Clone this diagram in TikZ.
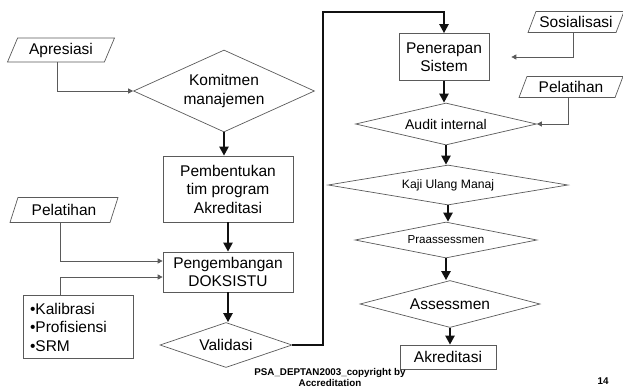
\documentclass[tikz,border=0pt]{standalone}
\usepackage{fontspec}
\setmainfont{Liberation Sans}
\usetikzlibrary{arrows.meta,shapes.geometric}
\usepackage{xcolor}
\definecolor{edgec}{HTML}{5A5A5A}
\definecolor{flowc}{HTML}{111111}

\tikzset{
  stepbox/.style={draw=edgec, line width=0.7pt, rectangle, inner sep=0pt, align=center},
  decide/.style={draw=edgec, line width=0.7pt, diamond, aspect=4, inner sep=0pt, align=center},
  inputbox/.style={draw=edgec, line width=0.7pt, trapezium, trapezium left angle=55, trapezium right angle=125,
    trapezium stretches body, inner xsep=2pt, inner ysep=0pt},
  thickflow/.style={-{Triangle[length=9pt,width=9pt]}, line width=2.2pt, flowc},
  thinflow/.style={-{Triangle[length=5pt,width=5pt]}, line width=0.8pt, edgec},
}

\begin{document}
\begin{tikzpicture}[x=1pt, y=-1pt, font=\fontsize{15.5}{18.5}\selectfont]
  \useasboundingbox (0,0) rectangle (623,388);

  % left column
  \node[inputbox, minimum width=107pt, minimum height=24pt] (apre) at (61,50) {Apresiasi};
  \node[decide, aspect=2.5, minimum width=181pt, minimum height=82pt] (komit) at (224,91) {Komitmen\\manajemen};
  \node[stepbox, minimum width=130pt, minimum height=66pt] (tim) at (228,189) {Pembentukan\\tim program\\Akreditasi};
  \node[stepbox, minimum width=130pt, minimum height=40pt] (dok) at (228,272) {Pengembangan\\DOKSISTU};
  \node[decide, minimum width=132pt, minimum height=45pt] (valid) at (226,345) {Validasi};

  % inputs on the left
  \node[inputbox, minimum width=108pt, minimum height=25pt] (pel1) at (64,210) {Pelatihan};
  \node[stepbox, minimum width=110pt, minimum height=63pt, text width=96pt, align=left] (kal) at (78,327)
    {•Kalibrasi\\•Profisiensi\\•SRM};

  % right column
  \node[stepbox, minimum width=90pt, minimum height=47pt] (pen) at (444,57) {Penerapan\\Sistem};
  \node[decide, minimum width=181pt, minimum height=42pt, font=\fontsize{14}{16}\selectfont] (aud) at (446,124) {Audit internal};
  \node[decide, minimum width=240pt, minimum height=40pt, font=\fontsize{12.2}{14}\selectfont] (kaji) at (448,185) {Kaji Ulang Manaj};
  \node[decide, minimum width=182pt, minimum height=36pt, font=\fontsize{11.6}{14}\selectfont] (pra) at (446,240) {Praassessmen};
  \node[decide, minimum width=180pt, minimum height=47pt] (ass) at (450,304) {Assessmen};
  \node[stepbox, minimum width=96pt, minimum height=24pt] (akr) at (448,357) {Akreditasi};

  % inputs on the right
  \node[inputbox, minimum width=96pt, minimum height=21pt] (sos) at (576,22) {Sosialisasi};
  \node[inputbox, minimum width=104pt, minimum height=21pt] (pel2) at (571,87) {Pelatihan};

  % main flow
  \foreach \a/\b in {komit/tim, tim/dok, dok/valid, pen/aud, aud/kaji, kaji/pra, pra/ass, ass/akr}
    \draw[thickflow] (\a.south) -- (\a.south |- \b.north);

  % loop back from Validasi
  \coordinate (loopa) at (323,345);
  \coordinate (loopb) at (323,12);
  \draw[thickflow] (valid.east) -- (loopa) -- (loopb) -| (pen.north);

  % inputs
  \draw[thinflow] ([xshift=-4pt]apre.south) |- (komit.west);
  \draw[thinflow] ([xshift=-4pt]pel1.south) |- ([yshift=11pt]dok.west);
  \draw[thinflow] ([xshift=-18pt]kal.north) |- ([yshift=-5pt]dok.west);
  \draw[thinflow, shorten >=22pt] ([xshift=-3pt]sos.south) |- (pen.east);
  \draw[thinflow] ([xshift=-3pt]pel2.south) |- (aud.east);

  % footer
  \node[font=\fontsize{9.8}{11}\selectfont\bfseries, align=center] (foot) at (330,377) {PSA\_DEPTAN2003\_copyright by\\Accreditation};
  \node[font=\fontsize{9.8}{11}\selectfont\bfseries] (page) at (603,381) {14};
\end{tikzpicture}
\end{document}
